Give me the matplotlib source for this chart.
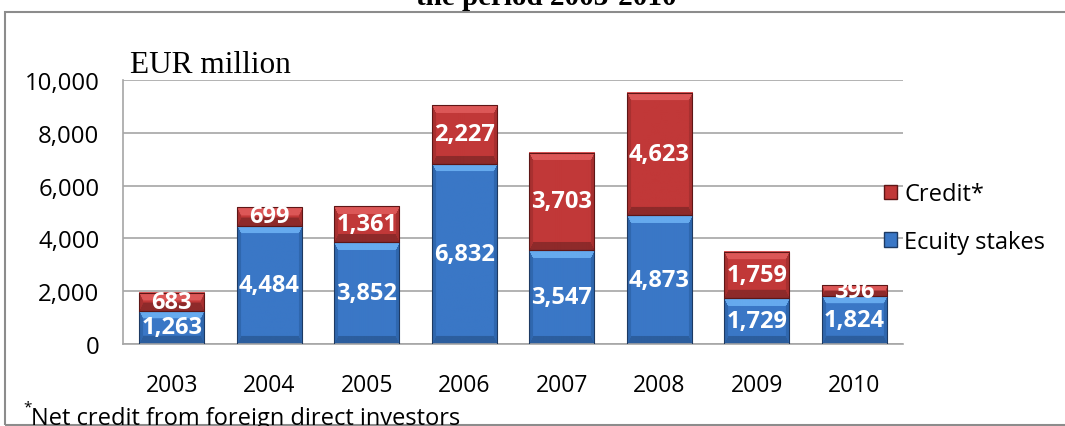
import numpy as np
import matplotlib
matplotlib.use("Agg")
import matplotlib.pyplot as plt
from matplotlib.patches import Patch, Rectangle

plt.rcParams['font.family'] = ['Open Sans', 'DejaVu Sans']

# data
years = ["2003", "2004", "2005", "2006", "2007", "2008", "2009", "2010"]
equity = [1263, 4484, 3852, 6832, 3547, 4873, 1729, 1824]
credit = [683, 699, 1361, 2227, 3703, 4623, 1759, 396]
ytick_vals = [0, 2000, 4000, 6000, 8000, 10000]

W, H = 1065, 427
fig = plt.figure(figsize=(W / 100, H / 100), dpi=100)
ax = fig.add_axes([123 / W, 1 - 345 / H, (903 - 123) / W, (345 - 81) / H])

blue = '#3A77C6'
red = '#C13838'

x = np.arange(len(years))
bw = 0.67
b1 = ax.bar(x, equity, bw, color=blue, edgecolor='#1D3A63', lw=0.8, zorder=3)
b2 = ax.bar(x, credit, bw, bottom=equity, color=red, edgecolor='#5E1616', lw=0.8, zorder=3)
ax.set_xlim(-0.5, len(years) - 0.5)
ax.set_ylim(0, 10000)


def bevel(patch, base, light, side, dark, tb=8, sb=4):
    # fake the Excel bevel look with a small image laid over the bar
    x0, y0 = patch.get_x(), patch.get_y()
    x1, y1 = x0 + patch.get_width(), y0 + patch.get_height()
    (px0, py0), (px1, py1) = ax.transData.transform([(x0, y0), (x1, y1)])
    nx = max(int(round(px1 - px0)), 2)
    ny = max(int(round(py1 - py0)), 2)
    jj, ii = np.meshgrid(np.arange(nx), np.arange(ny))
    dist = np.stack([ii / tb, jj / sb, (nx - 1 - jj) / sb, (ny - 1 - ii) / tb])
    face = dist.argmin(0)
    near = dist.min(0) < 1
    img = np.empty((ny, nx, 3))
    img[:] = matplotlib.colors.to_rgb(base)
    for k, c in enumerate([light, side, side, dark]):
        img[near & (face == k)] = matplotlib.colors.to_rgb(c)
    ax.imshow(img, extent=(x0, x1, y0, y1), aspect='auto',
              interpolation='bilinear', zorder=2.5)
    patch.set_facecolor('none')


for p in b1:
    bevel(p, blue, '#66AAEE', '#2F67AE', '#2C5E9E')
for p in b2:
    bevel(p, red, '#DC5757', '#A83030', '#8E2A2A')

ax.set_xlim(-0.5, len(years) - 0.5)
ax.set_ylim(0, 10000)

ax.bar_label(b1, labels=[f"{v:,}" for v in equity], label_type='center',
             color='white', fontsize=17, fontweight='bold', zorder=5)
ax.bar_label(b2, labels=[f"{v:,}" for v in credit], label_type='center',
             color='white', fontsize=17, fontweight='bold', zorder=5)

ax.set_xticks(x)
ax.set_xticklabels(years, fontsize=16.5)
ax.set_yticks(ytick_vals)
ax.set_yticklabels([f"{v:,}" for v in ytick_vals], fontsize=17.3)
ax.tick_params(axis='x', length=0, pad=21)
ax.tick_params(axis='y', length=0, pad=17)
ax.yaxis.grid(True, color='#A6A6A6', lw=1.2)
ax.set_axisbelow(True)
for s in ['top', 'right']:
    ax.spines[s].set_visible(False)
for s in ['left', 'bottom']:
    ax.spines[s].set_color('#A6A6A6')
    ax.spines[s].set_linewidth(1.2)

handles = [Patch(facecolor=red, edgecolor='#5E1616'),
           Patch(facecolor=blue, edgecolor='#1D3A63')]
fig.legend(handles, ["Credit*", "Ecuity stakes"], loc='center left',
           bbox_to_anchor=(884 / W, 1 - 219 / H), frameon=False, fontsize=17,
           handlelength=0.55, handleheight=0.55, handletextpad=0.3,
           labelspacing=1.0, borderpad=0, borderaxespad=0)

fig.text(130 / W, 1 - 73 / H, "EUR million", family='Liberation Serif',
         fontsize=22.5, va='baseline')
fig.text(546 / W, 1 - 5 / H, "the period 2003-2010", family='Liberation Serif',
         fontweight='bold', fontsize=21, ha='center', va='baseline')
fig.text(23 / W, 1 - 411 / H, "*", fontsize=11, va='baseline')
fig.text(31 / W, 1 - 425 / H, "Net credit from foreign direct investors",
         fontsize=17, va='baseline')

# outer frame of the original figure box
fig.patches.append(Rectangle((5 / W, 1 / H), 1.2, 1 - 14 / H, fill=False,
                             edgecolor='#8C8C8C', lw=1.5,
                             transform=fig.transFigure, figure=fig))

fig.savefig("out.png", dpi=100)
